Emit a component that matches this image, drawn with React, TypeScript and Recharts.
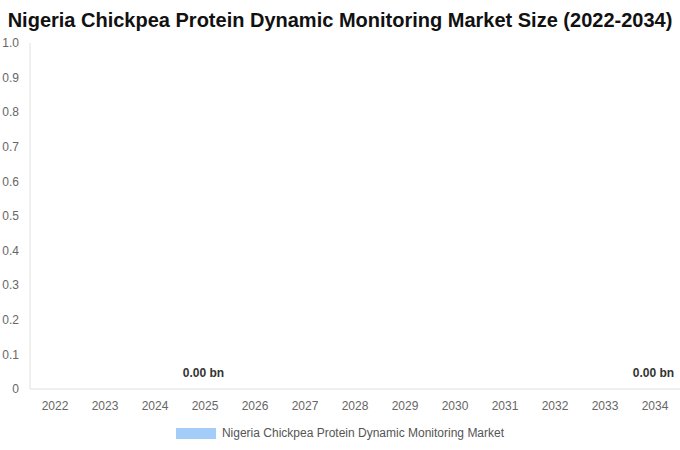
import { ComposedChart, Bar, Line, XAxis, YAxis, Legend, LabelList } from 'recharts';

const TITLE = 'Nigeria Chickpea Protein Dynamic Monitoring Market Size (2022-2034)';
const SERIES_NAME = 'Nigeria Chickpea Protein Dynamic Monitoring Market';
const YEARS = ['2022', '2023', '2024', '2025', '2026', '2027', '2028', '2029', '2030', '2031', '2032', '2033', '2034'];
const MARKET_SIZE = [0, 0, 0, 0, 0, 0, 0, 0, 0, 0, 0, 0, 0];
const LABELED_YEARS = ['2025', '2034'];
const Y_TICKS = [0, 0.1, 0.2, 0.3, 0.4, 0.5, 0.6, 0.7, 0.8, 0.9, 1.0];

const BAR_COLOR = '#a3cdf8';
const FONT = '"Liberation Sans", Arial, sans-serif';

const data = YEARS.map((year, i) => ({
  year,
  value: MARKET_SIZE[i],
  label: LABELED_YEARS.includes(year) ? `${MARKET_SIZE[i].toFixed(2)} bn` : '',
}));

// zero-height bars get no labels, so the labels ride on an invisible line
function ValueLabel(props: any) {
  const box = props.viewBox ?? props;
  const x = Number(box.x ?? props.x);
  const y = Number(box.y ?? props.y);
  const width = Number(box.width ?? 0);
  const text = props.value;
  if (!text || Number.isNaN(x) || Number.isNaN(y)) return null;
  return (
    <text
      x={x + width / 2 - 1.5}
      y={y - 12}
      textAnchor="middle"
      fontSize={12}
      fontWeight="bold"
      fill="#333"
      fontFamily={FONT}
    >
      {text}
    </text>
  );
}

function LegendContent() {
  return (
    <div style={{ display: 'flex', justifyContent: 'center', alignItems: 'center', height: 24, fontFamily: FONT }}>
      <span style={{ display: 'inline-block', width: 40, height: 11, background: BAR_COLOR, marginRight: 6 }} />
      <span style={{ fontSize: 12, color: '#555' }}>{SERIES_NAME}</span>
    </div>
  );
}

export default function App() {
  return (
    <div style={{ position: 'relative', width: 680, height: 450, background: '#fff', fontFamily: FONT }}>
      <style>{'body{margin:0}'}</style>
      <div
        style={{
          position: 'absolute',
          top: 8,
          left: 0,
          width: 680,
          textAlign: 'center',
          fontSize: 20,
          fontWeight: 'bold',
          color: '#111',
          lineHeight: '24px',
          whiteSpace: 'nowrap',
        }}
      >
        {TITLE}
      </div>
      <ComposedChart width={680} height={450} data={data} margin={{ top: 43, right: 0, left: 0, bottom: 5 }}>
        <YAxis
          width={30}
          domain={[0, 1]}
          ticks={Y_TICKS}
          interval={0}
          tickFormatter={(v: number) => (v === 0 ? '0' : v.toFixed(1))}
          tick={{ fontSize: 12, fill: '#666', fontFamily: FONT }}
          tickLine={false}
          tickSize={0}
          tickMargin={11}
          axisLine={{ stroke: '#e0e0e0' }}
        />
        <XAxis
          dataKey="year"
          height={32}
          interval={0}
          tick={{ fontSize: 12, fill: '#666', fontFamily: FONT }}
          tickLine={false}
          tickSize={0}
          tickMargin={12}
          axisLine={{ stroke: '#e0e0e0' }}
        />
        <Legend verticalAlign="bottom" content={<LegendContent />} />
        <Bar dataKey="value" name={SERIES_NAME} fill={BAR_COLOR} isAnimationActive={false} />
        <Line
          dataKey="value"
          stroke="none"
          dot={false}
          activeDot={false}
          legendType="none"
          isAnimationActive={false}
        >
          <LabelList dataKey="label" content={<ValueLabel />} />
        </Line>
      </ComposedChart>
    </div>
  );
}
